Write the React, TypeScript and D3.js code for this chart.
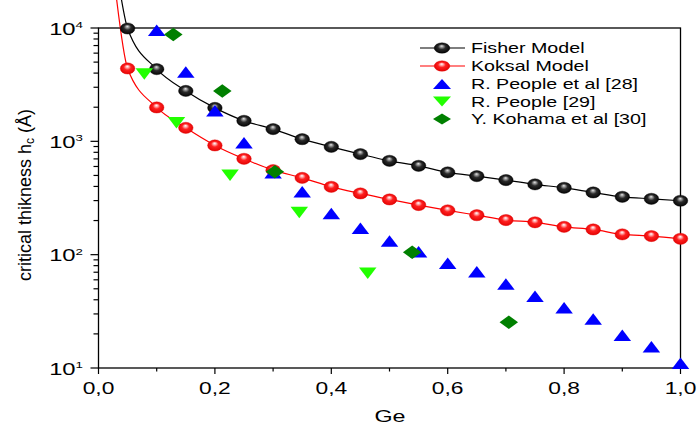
import React from 'react';
import * as d3 from 'd3';

const W = 697;
const H = 425;

// Model curves (Ge fraction vs critical thickness in Å)
const modelGe = [0.05, 0.10, 0.15, 0.20, 0.25, 0.30, 0.35, 0.40, 0.45, 0.50, 0.55, 0.60, 0.65, 0.70, 0.75, 0.80, 0.85, 0.90, 0.95, 1.00];
const fisherHc = [9900, 4335, 2786, 1973, 1517, 1282, 1045, 894, 771, 673, 608, 532, 493, 455, 417, 389, 354, 324, 311, 299];
const koksalHc = [4395, 1991, 1315, 920, 701, 557, 476, 397, 347, 307, 274, 246, 223, 202, 193, 176, 167, 151, 146, 138];
// steep start of the model lines (above the frame)
const fisherHeadGe = [0.0385];
const fisherHeadHc = [19000];
const koksalHeadGe = [0.0305];
const koksalHeadHc = [19000];

// Experimental data
const people28Ge = [0.10, 0.15, 0.20, 0.25, 0.30, 0.35, 0.40, 0.45, 0.50, 0.55, 0.60, 0.65, 0.70, 0.75, 0.80, 0.85, 0.90, 0.95, 1.00];
const people28Hc = [9570, 4100, 1858, 970, 527, 359, 231, 171, 132, 106, 84, 70.6, 55, 43, 34, 27, 19.5, 15.4, 11];
const people29Ge = [0.0787, 0.134, 0.226, 0.345, 0.4626];
const people29Hc = [3920, 1456, 503, 236, 68.4];
const kohamaGe = [0.1285, 0.2127, 0.303, 0.539, 0.705];
const kohamaHc = [8770, 2786, 538, 105, 25.3];

const xTicksMajor = [0, 0.2, 0.4, 0.6, 0.8, 1.0];
const xTickLabels = ['0,0', '0,2', '0,4', '0,6', '0,8', '1,0'];
const xTicksMinor = [0.1, 0.3, 0.5, 0.7, 0.9];
const yDecades = [1, 2, 3, 4];

const legendLabels = ['Fisher Model', 'Koksal Model', 'R. People et al [28]', 'R. People [29]', 'Y. Kohama et al [30]'];

const FONT = "'Liberation Sans', Arial, Helvetica, sans-serif";

const x = d3.scaleLinear().domain([0, 1]).range([98.5, 680.5]);
const y = d3.scaleLog().domain([10, 10000]).range([368, 28]);

const BLUE = '#0000ff';
const LIME = '#22ff00';
const DKGREEN = '#008000';

function Sphere({ cx, cy, kind, rx = 7.3, ry = 5.6 }: { cx: number; cy: number; kind: 'black' | 'red'; rx?: number; ry?: number }) {
  return <ellipse cx={cx} cy={cy} rx={rx} ry={ry} fill={`url(#grad-${kind})`} stroke={kind === 'black' ? '#000' : '#e00000'} strokeWidth={0.4} />;
}

function TriUp({ cx, cy, color, w = 17.5, h = 11.5 }: { cx: number; cy: number; color: string; w?: number; h?: number }) {
  return <path d={`M${cx},${cy - h / 2}L${cx + w / 2},${cy + h / 2}L${cx - w / 2},${cy + h / 2}Z`} fill={color} />;
}

function TriDown({ cx, cy, color, w = 17.5, h = 11.5 }: { cx: number; cy: number; color: string; w?: number; h?: number }) {
  return <path d={`M${cx - w / 2},${cy - h / 2}L${cx + w / 2},${cy - h / 2}L${cx},${cy + h / 2}Z`} fill={color} />;
}

function Diamond({ cx, cy, color, w = 18.5, h = 13.5 }: { cx: number; cy: number; color: string; w?: number; h?: number }) {
  return <path d={`M${cx},${cy - h / 2}L${cx + w / 2},${cy}L${cx},${cy + h / 2}L${cx - w / 2},${cy}Z`} fill={color} />;
}

export default function App() {
  const line = d3
    .line<[number, number]>()
    .x((d) => x(d[0]))
    .y((d) => y(d[1]))
    .curve(d3.curveMonotoneX);

  const fisherPts: [number, number][] = [
    ...fisherHeadGe.map((g, i) => [g, fisherHeadHc[i]] as [number, number]),
    ...modelGe.map((g, i) => [g, fisherHc[i]] as [number, number]),
  ];
  const koksalPts: [number, number][] = [
    ...koksalHeadGe.map((g, i) => [g, koksalHeadHc[i]] as [number, number]),
    ...modelGe.map((g, i) => [g, koksalHc[i]] as [number, number]),
  ];

  const minorY: number[] = [];
  for (let d = 1; d < 4; d++) {
    for (let m = 2; m <= 9; m++) minorY.push(m * Math.pow(10, d));
  }

  const [x0, x1] = x.range();
  const [yb, yt] = y.range();

  const legX = 442;
  const legRows = [48, 66, 84, 101.5, 119];

  return (
    <svg width={W} height={H} style={{ position: 'absolute', left: 0, top: 0, background: '#fff' }} fontFamily={FONT}>
      <defs>
        <radialGradient id="grad-black" cx="0.5" cy="0.5" r="0.55" fx="0.48" fy="0.3">
          <stop offset="0%" stopColor="#e8e8e8" />
          <stop offset="18%" stopColor="#9a9a9a" />
          <stop offset="45%" stopColor="#2a2a2a" />
          <stop offset="100%" stopColor="#000" />
        </radialGradient>
        <radialGradient id="grad-red" cx="0.5" cy="0.5" r="0.55" fx="0.48" fy="0.3">
          <stop offset="0%" stopColor="#ffffff" />
          <stop offset="18%" stopColor="#ffb0b0" />
          <stop offset="45%" stopColor="#ff2020" />
          <stop offset="100%" stopColor="#e00000" />
        </radialGradient>
      </defs>
      <rect x={0} y={0} width={W} height={H} fill="#fff" />

      {/* frame */}
      <rect x={x0} y={yt} width={x1 - x0} height={yb - yt} fill="none" stroke="#000" strokeWidth={1.3} />

      {/* x ticks */}
      {xTicksMajor.map((t) => (
        <line key={'xm' + t} x1={x(t)} x2={x(t)} y1={yb} y2={yb + 6} stroke="#000" strokeWidth={1.2} />
      ))}
      {xTicksMinor.map((t) => (
        <line key={'xn' + t} x1={x(t)} x2={x(t)} y1={yb} y2={yb + 3.5} stroke="#000" strokeWidth={1.2} />
      ))}
      {xTicksMajor.map((t, i) => (
        <text key={'xl' + t} transform={`translate(${x(t)},394) scale(1.4,1)`} textAnchor="middle" fontSize={16.3} fill="#000">
          {xTickLabels[i]}
        </text>
      ))}

      {/* y ticks */}
      {yDecades.map((d) => (
        <line key={'ym' + d} x1={x0 - 8} x2={x0} y1={y(Math.pow(10, d))} y2={y(Math.pow(10, d))} stroke="#000" strokeWidth={1.2} />
      ))}
      {minorY.map((v) => (
        <line key={'yn' + v} x1={x0 - 5} x2={x0} y1={y(v)} y2={y(v)} stroke="#000" strokeWidth={1.2} />
      ))}
      {yDecades.map((d) => (
        <text key={'yl' + d} transform={`translate(83,${y(Math.pow(10, d)) + 6.5}) scale(1.4,1)`} textAnchor="end" fontSize={17} fill="#000">
          10
          <tspan fontSize={9.5} dy={-6.5}>
            {d}
          </tspan>
        </text>
      ))}

      {/* axis titles */}
      <text transform={`translate(390,422) scale(1.37,1)`} textAnchor="middle" fontSize={17} fill="#000">
        Ge
      </text>
      <text transform={`translate(31,195) rotate(-90)`} textAnchor="middle" fontSize={18} fill="#000">
        critical thikness h
        <tspan fontSize={12} dy={3}>
          c
        </tspan>
        <tspan dy={-3}> (Å)</tspan>
      </text>

      {/* model lines */}
      <path d={line(fisherPts) || ''} fill="none" stroke="#000" strokeWidth={1.2} />
      <path d={line(koksalPts) || ''} fill="none" stroke="#ff0000" strokeWidth={1.2} />

      {/* model markers */}
      {modelGe.map((g, i) => (
        <Sphere key={'f' + i} cx={x(g)} cy={y(fisherHc[i])} kind="black" />
      ))}
      {modelGe.map((g, i) => (
        <Sphere key={'k' + i} cx={x(g)} cy={y(koksalHc[i])} kind="red" />
      ))}

      {/* experimental */}
      {people28Ge.map((g, i) => (
        <TriUp key={'p28' + i} cx={x(g)} cy={y(people28Hc[i])} color={BLUE} />
      ))}
      {people29Ge.map((g, i) => (
        <TriDown key={'p29' + i} cx={x(g)} cy={y(people29Hc[i])} color={LIME} />
      ))}
      {kohamaGe.map((g, i) => (
        <Diamond key={'ko' + i} cx={x(g)} cy={y(kohamaHc[i])} color={DKGREEN} />
      ))}

      {/* legend */}
      <line x1={420} x2={465} y1={legRows[0]} y2={legRows[0]} stroke="#000" strokeWidth={1.2} />
      <Sphere cx={legX} cy={legRows[0]} kind="black" rx={7.8} ry={5.2} />
      <line x1={420} x2={465} y1={legRows[1]} y2={legRows[1]} stroke="#ff0000" strokeWidth={1.2} />
      <Sphere cx={legX} cy={legRows[1]} kind="red" rx={7.8} ry={5.2} />
      <TriUp cx={legX} cy={legRows[2]} color={BLUE} w={18} h={10} />
      <TriDown cx={legX} cy={legRows[3]} color={LIME} w={18} h={10} />
      <Diamond cx={legX} cy={legRows[4]} color={DKGREEN} w={18} h={11} />
      {legendLabels.map((l, i) => (
        <text key={'lg' + i} transform={`translate(471,${legRows[i] + 5.3}) scale(1.31,1)`} fontSize={15} fill="#000">
          {l}
        </text>
      ))}
    </svg>
  );
}
